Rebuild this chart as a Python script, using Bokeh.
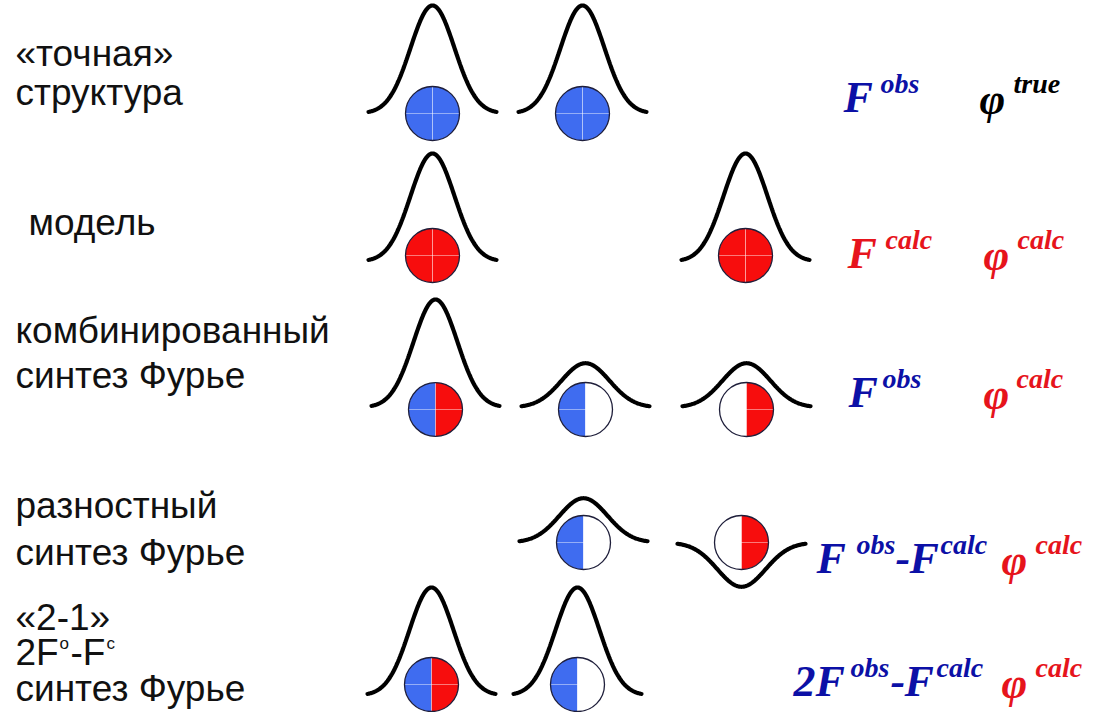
import numpy as np
from bokeh.plotting import figure
from bokeh.models import Range1d
from bokeh.embed import file_html
from bokeh.resources import INLINE
from bokeh.core.properties import value

# ---------------- content ----------------
label_lines = ["«точная»", "структура", "модель", "комбинированный", "синтез Фурье",
               "разностный", "синтез Фурье", "«2-1»", "синтез Фурье"]

rows = ["exact", "model", "combined", "difference", "two_one"]
# relative electron-density peak height at each of 3 atom sites (None = no peak)
peak_heights = {
    "exact":      [1.0, 1.0, None],
    "model":      [1.0, None, 1.0],
    "combined":   [1.0, 0.41, 0.41],
    "difference": [None, 0.41, -0.41],
    "two_one":    [1.0, 1.0, None],
}
# atom halves: (left half, right half); None = no atom
atom_halves = {
    "exact":      [("obs", "obs"), ("obs", "obs"), None],
    "model":      [("calc", "calc"), None, ("calc", "calc")],
    "combined":   [("obs", "calc"), ("obs", "none"), ("none", "calc")],
    "difference": [None, ("obs", "none"), ("none", "calc")],
    "two_one":    [("obs", "calc"), ("obs", "none"), None],
}
# amplitude formulas (text, role) and phase superscripts
amp_pieces = [
    [("F", "big"), ("obs", "sup")],
    [("F", "big"), ("calc", "sup")],
    [("F", "big"), ("obs", "sup")],
    [("F", "big"), ("obs", "sup"), ("-", "big"), ("F", "big"), ("calc", "sup")],
    [("2F", "big"), ("obs", "sup"), ("-", "big"), ("F", "big"), ("calc", "sup")],
]
amp_colour_keys = ["blue", "red", "blue", "blue", "blue"]
phase_sups = ["true", "calc", "calc", "calc", "calc"]
phase_colour_keys = ["black", "red", "red", "red", "red"]

# ---------------- layout / style ----------------
label_x = [15, 15, 28, 15, 15, 15, 15, 15, 15]
label_base = [53, 92, 222, 330, 375, 505, 552, 617, 688]
two_one_base = 652

site_x = {
    "exact": [432, 582, None], "model": [432, None, 745],
    "combined": [435, 585, 746], "difference": [None, 583, 741],
    "two_one": [431, 577, None],
}
curve_base = {"exact": 113, "model": 261, "combined": 407, "difference": 542, "two_one": 695}
atom_y = {"exact": 113, "model": 255, "combined": 409, "difference": 542, "two_one": 684}
FULL_H = 108
HALF_SPAN = 64
R = 27

amp_x = [[843, 880], [847, 885], [848, 882], [816, 856, 895, 909, 940], [793, 850, 890, 904, 936]]
amp_base = [97, 253, 392, 558, 681]
phase_x = [979, 983, 983, 1001, 1001]
phase_sup_x = [1013, 1017, 1016, 1035, 1035]

colours = {"blue": "#0c10a6", "red": "#e6141c", "black": "#000000"}
fills = {"obs": "#3f6cf0", "calc": "#f70d0d", "none": "#ffffff"}

p = figure(width=1086, height=712, x_range=Range1d(0, 1086), y_range=Range1d(712, 0),
           output_backend="svg", toolbar_location=None, min_border=0,
           x_axis_location=None, y_axis_location=None)
p.grid.visible = False
p.outline_line_color = None
p.background_fill_color = "white"
p.border_fill_color = "white"

# density curves
for r in rows:
    for h, cx in zip(peak_heights[r], site_x[r]):
        if h is None:
            continue
        sigma = 22 if abs(h) > 0.9 else 24
        xs = np.linspace(cx - HALF_SPAN, cx + HALF_SPAN, 200)
        ys = curve_base[r] - h * FULL_H * np.exp(-(xs - cx) ** 2 / (2 * sigma ** 2))
        p.line(xs, ys, line_color="black", line_width=4.2, line_cap="round")

# atoms
wx, wy, ws, we, wc = [], [], [], [], []
cxs, cys = [], []
for r in rows:
    for halves, cx in zip(atom_halves[r], site_x[r]):
        if halves is None:
            continue
        left, right = halves
        wx += [cx, cx]; wy += [atom_y[r]] * 2
        ws += [np.pi / 2, -np.pi / 2]; we += [3 * np.pi / 2, np.pi / 2]
        wc += [fills[left], fills[right]]
        cxs.append(cx); cys.append(atom_y[r])

p.wedge(x=wx, y=wy, radius=R, start_angle=ws, end_angle=we, fill_color=wc,
        line_color=None, direction="anticlock")
p.segment(x0=[c - R for c in cxs], y0=cys, x1=[c + R for c in cxs], y1=cys,
          line_color="white", line_alpha=0.45, line_width=1)
p.segment(x0=cxs, y0=[c - R for c in cys], x1=cxs, y1=[c + R for c in cys],
          line_color="white", line_alpha=0.45, line_width=1)
p.circle(x=cxs, y=cys, radius=R, fill_color=None, line_color="#1e1e3a", line_width=1.3)

# left labels
sans = value("Liberation Sans")
p.text(x=label_x, y=label_base, text=label_lines, text_font=sans, text_font_size="37px",
       text_color="#111111", text_baseline="alphabetic", text_align="left")
# "2Fo-Fc" label
p.text(x=[15, 70], y=[two_one_base] * 2, text=["2F", "-F"], text_font=sans,
       text_font_size="37px", text_color="#111111", text_baseline="alphabetic")
p.text(x=[59, 106], y=[two_one_base - 9] * 2, text=["o", "c"], text_font=sans,
       text_font_size="17px", text_color="#111111", text_baseline="alphabetic")

# formulas
serif = value("Liberation Serif")
for i in range(len(amp_pieces)):
    col = colours[amp_colour_keys[i]]
    for (txt, role), x in zip(amp_pieces[i], amp_x[i]):
        big = role == "big"
        p.text(x=[x], y=[amp_base[i] if big else amp_base[i] - 14], text=[txt],
               text_font=serif, text_font_style="bold italic",
               text_font_size="44px" if big else "28px", text_color=col,
               text_baseline="alphabetic")
    pcol = colours[phase_colour_keys[i]]
    p.text(x=[phase_x[i]], y=[amp_base[i] + 2], text=["φ"], text_font=serif,
           text_font_style="bold italic", text_font_size="44px", text_color=pcol,
           text_baseline="alphabetic")
    p.text(x=[phase_sup_x[i]], y=[amp_base[i] - 14], text=[phase_sups[i]], text_font=serif,
           text_font_style="bold italic", text_font_size="28px", text_color=pcol,
           text_baseline="alphabetic")

open("out.html", "w").write(file_html(p, INLINE))
